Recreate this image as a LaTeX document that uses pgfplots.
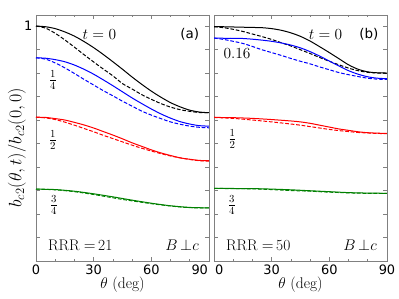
\RequirePackage{fix-cm}
\documentclass[border=0pt]{standalone}
\usepackage{fontspec}
\usepackage{pgfplots}
\pgfplotsset{compat=1.18}
\newfontfamily\dejavu{DejaVu Sans}
\definecolor{mgreen}{rgb}{0,0.5,0}
\definecolor{frame}{gray}{0.5}
\newcommand{\lbl}{\fontsize{15.5}{17}\selectfont}
\pgfplotsset{
  panel/.style={
    scale only axis, width=173bp, height=246bp,
    xmin=0, xmax=90, ymin=0, ymax=1.047,
    xtick={0,30,60,90}, minor xtick={10,20,40,50,70,80},
    ytick={0,0.1,0.2,0.3,0.4,0.5,0.6,0.7,0.8,0.9,1},
    tick pos=both, tick align=inside,
    major tick length=4bp, minor tick length=2bp,
    axis line style={frame, line width=0.9bp},
    every tick/.style={frame, line width=0.7bp},
    tick label style={font=\dejavu\fontsize{13}{14}\selectfont},
    /pgf/number format/assume math mode=true,
    xlabel={$\theta$ (deg)},
    xlabel style={font=\lbl, at={(axis description cs:0.5,-0.097)}, anchor=center},
    every axis plot/.append style={line width=1bp, smooth, no marks},
  },
  dsh/.style={dash pattern=on 3.7bp off 1.8bp},
}
\begin{document}
\begin{tikzpicture}
% ---------------- panel (a) ----------------
\begin{axis}[panel, at={(0,0)},
  yticklabels={,,,,,,,,,,1},
  xticklabels={0,30,60,\makebox[0pt][r]{90\hspace{1bp}}},
  ylabel={$b_{c2}(\theta,t)/b_{c2}(0,0)$},
  ylabel style={font=\fontsize{18}{20}\selectfont, at={(axis description cs:-0.11,0.46)}, anchor=center},
]
\addplot[black] coordinates {(0,1.000)(5,0.997)(10,0.989)(15,0.975)(20,0.957)(25,0.934)(30,0.908)(35,0.879)(40,0.848)(45,0.816)(50,0.783)(55,0.752)(60,0.723)(65,0.697)(70,0.674)(75,0.656)(80,0.642)(85,0.634)(90,0.631)};
\addplot[black,dsh] coordinates {(0,1.000)(5,0.991)(10,0.969)(15,0.941)(20,0.910)(25,0.878)(30,0.847)(35,0.817)(40,0.788)(45,0.755)(50,0.732)(55,0.708)(60,0.688)(65,0.670)(70,0.655)(75,0.644)(80,0.637)(85,0.632)(90,0.631)};
\addplot[blue] coordinates {(0,0.865)(5,0.863)(10,0.857)(15,0.848)(20,0.834)(25,0.816)(30,0.795)(35,0.771)(40,0.746)(45,0.720)(50,0.694)(55,0.670)(60,0.647)(65,0.626)(70,0.608)(75,0.593)(80,0.583)(85,0.576)(90,0.574)};
\addplot[blue,dsh] coordinates {(0,0.865)(5,0.859)(10,0.843)(15,0.822)(20,0.798)(25,0.773)(30,0.749)(35,0.725)(40,0.703)(45,0.680)(50,0.659)(55,0.638)(60,0.621)(65,0.606)(70,0.592)(75,0.582)(80,0.574)(85,0.569)(90,0.567)};
\addplot[red] coordinates {(0,0.612)(5,0.611)(10,0.606)(15,0.600)(20,0.590)(25,0.579)(30,0.566)(35,0.551)(40,0.536)(45,0.520)(50,0.503)(55,0.488)(60,0.473)(65,0.460)(70,0.449)(75,0.439)(80,0.433)(85,0.428)(90,0.427)};
\addplot[red,dsh] coordinates {(0,0.612)(5,0.609)(10,0.602)(15,0.591)(20,0.578)(25,0.564)(30,0.550)(35,0.535)(40,0.521)(45,0.507)(50,0.493)(55,0.480)(60,0.468)(65,0.457)(70,0.447)(75,0.439)(80,0.432)(85,0.427)(90,0.425)};
\addplot[mgreen] coordinates {(0,0.306)(10,0.304)(20,0.297)(30,0.286)(40,0.273)(45,0.266)(50,0.259)(60,0.246)(70,0.235)(80,0.228)(90,0.226)};
\addplot[mgreen,dsh] coordinates {(0,0.306)(10,0.303)(20,0.295)(30,0.283)(40,0.269)(45,0.262)(50,0.256)(60,0.244)(70,0.234)(80,0.227)(90,0.226)};
\node[font=\lbl] at (axis cs:33,0.965) {$t=0$};
\node[font=\dejavu\fontsize{13.5}{15}\selectfont] at (axis cs:80,0.965) {(a)};
\node[font=\lbl] at (axis cs:8.8,0.77) {$\frac{1}{4}$};
\node[font=\lbl] at (axis cs:8.8,0.515) {$\frac{1}{2}$};
\node[font=\lbl] at (axis cs:9.3,0.238) {$\frac{3}{4}$};
\node[font=\lbl] at (axis cs:23,0.068) {RRR$\;=\,$21};
\node[font=\lbl] at (axis cs:76,0.068) {$B\,{\perp}c$};
\end{axis}
% ---------------- panel (b) ----------------
\begin{axis}[panel, at={(178bp,0)},
  yticklabels={},
  xticklabels={\makebox[0pt][l]{\hspace{1bp}0},30,60,90},
]
\addplot[black] coordinates {(0,0.997)(5,0.997)(10,0.996)(15,0.995)(20,0.994)(25,0.993)(30,0.989)(35,0.982)(40,0.971)(45,0.956)(50,0.936)(55,0.912)(60,0.887)(65,0.861)(70,0.835)(75,0.816)(80,0.805)(85,0.801)(90,0.800)};
\addplot[black,dsh] coordinates {(0,0.997)(5,0.993)(10,0.986)(15,0.977)(20,0.966)(25,0.955)(30,0.943)(35,0.929)(40,0.915)(45,0.899)(50,0.883)(55,0.866)(60,0.850)(65,0.835)(70,0.821)(75,0.810)(80,0.803)(85,0.800)(90,0.799)};
\addplot[blue] coordinates {(0,0.949)(5,0.948)(10,0.948)(15,0.947)(20,0.944)(25,0.940)(30,0.935)(35,0.928)(40,0.919)(45,0.907)(50,0.891)(55,0.872)(60,0.851)(65,0.830)(70,0.810)(75,0.795)(80,0.784)(85,0.778)(90,0.776)};
\addplot[blue,dsh] coordinates {(0,0.949)(5,0.943)(10,0.935)(15,0.926)(20,0.913)(25,0.899)(30,0.887)(35,0.875)(40,0.862)(45,0.850)(50,0.839)(55,0.826)(60,0.814)(65,0.802)(70,0.793)(75,0.785)(80,0.778)(85,0.774)(90,0.773)};
\addplot[red] coordinates {(0,0.611)(10,0.610)(20,0.607)(30,0.602)(40,0.596)(45,0.592)(50,0.586)(55,0.578)(60,0.570)(65,0.562)(70,0.556)(75,0.550)(80,0.546)(85,0.544)(90,0.543)};
\addplot[red,dsh] coordinates {(0,0.611)(10,0.607)(20,0.600)(30,0.592)(40,0.583)(45,0.578)(50,0.572)(55,0.566)(60,0.560)(65,0.555)(70,0.551)(75,0.547)(80,0.545)(85,0.543)(90,0.542)};
\addplot[mgreen] coordinates {(0,0.309)(20,0.308)(30,0.306)(40,0.303)(50,0.299)(60,0.295)(70,0.291)(80,0.289)(90,0.288)};
\addplot[mgreen,dsh] coordinates {(0,0.309)(20,0.307)(30,0.304)(40,0.300)(50,0.297)(60,0.293)(70,0.290)(80,0.288)(90,0.288)};
\node[font=\lbl] at (axis cs:58,0.965) {$t=0$};
\node[font=\dejavu\fontsize{13.5}{15}\selectfont] at (axis cs:80.6,0.965) {(b)};
\node[font=\lbl] at (axis cs:12,0.885) {$0.16$};
\node[font=\lbl] at (axis cs:9.5,0.52) {$\frac{1}{2}$};
\node[font=\lbl] at (axis cs:9.3,0.238) {$\frac{3}{4}$};
\node[font=\lbl] at (axis cs:23,0.068) {RRR$\;=\,$50};
\node[font=\lbl] at (axis cs:76,0.068) {$B\,{\perp}c$};
\end{axis}
\pgfresetboundingbox
\path[use as bounding box] (-36bp,-38bp) rectangle (363bp,261bp);
\end{tikzpicture}
\end{document}
